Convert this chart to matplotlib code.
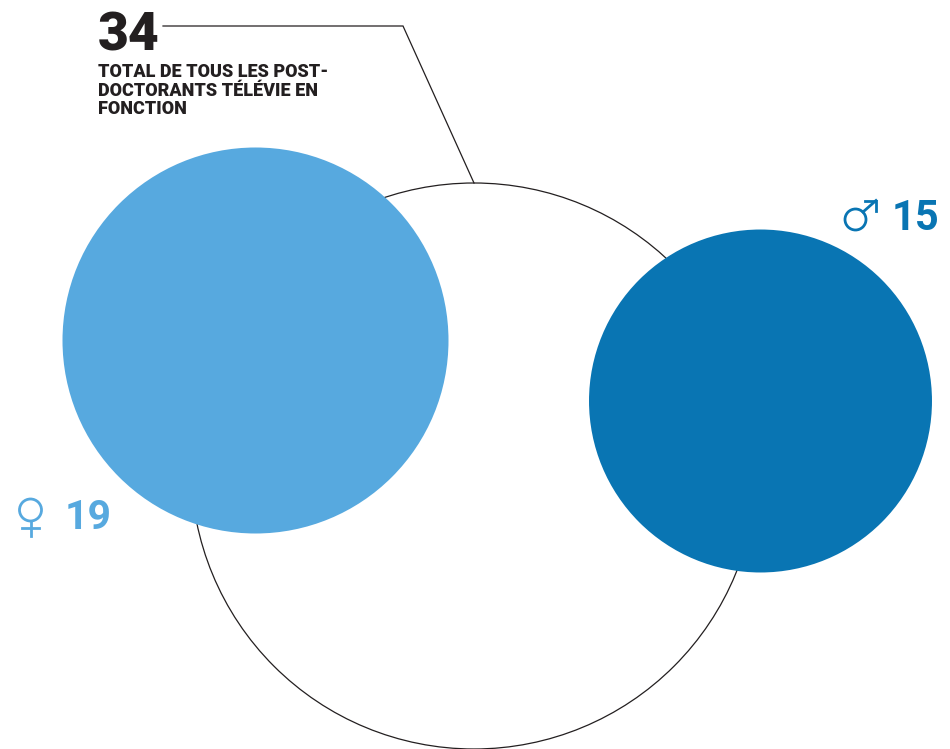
import math
import matplotlib
matplotlib.use("Agg")
import matplotlib.pyplot as plt
from matplotlib.patches import Circle

# Data
total_value = 34
female_value = 19
male_value = 15
total_lines = ["TOTAL DE TOUS LES POST-", "DOCTORANTS TÉLÉVIE EN", "FONCTION"]

LIGHT = "#57A9DF"
DARK = "#0975B3"
INK = "#231F20"

fig = plt.figure(figsize=(9.5, 7.49), dpi=100)
ax = fig.add_axes([0, 0, 1, 1])
ax.set_xlim(0, 950)
ax.set_ylim(749, 0)
ax.set_aspect("equal")
ax.axis("off")

k = 193 / math.sqrt(female_value)  # area-proportional scale for the two groups
k_total = 283 / math.sqrt(total_value)

ax.add_patch(Circle((474, 466), k_total * math.sqrt(total_value), fc="white", ec=INK, lw=0.9, zorder=1))
ax.add_patch(Circle((255.5, 340.5), k * math.sqrt(female_value), fc=LIGHT, ec="none", zorder=2))
ax.add_patch(Circle((760.5, 401), k * math.sqrt(male_value), fc=DARK, ec="none", zorder=2))

ax.plot([163, 403, 474], [26, 26, 183], color=INK, lw=0.9, zorder=3, solid_joinstyle="miter")

ax.text(97.5, 50.5, str(total_value), family="Roboto", weight="black", fontsize=38.4, color=INK, va="baseline", ha="left")
for line, base in zip(total_lines, [77, 95.5, 114]):
    ax.text(98, base, line, family="Roboto", weight="black", fontsize=12.95, color=INK, va="baseline")

ax.text(892, 230, str(male_value), family="Roboto", weight="bold", fontsize=30, color=DARK, va="baseline", ha="left")
ax.text(65, 529, str(female_value), family="Roboto", weight="bold", fontsize=29.5, color=LIGHT, va="baseline", ha="left")

# Gender icons
sym_lw = 2.0
ax.add_patch(Circle((855.5, 219.5), 10.5, fc="none", ec=DARK, lw=sym_lw, zorder=4))
ax.plot([863, 876], [212, 200.5], color=DARK, lw=sym_lw, zorder=4)
ax.plot([865, 876, 876], [200.5, 200.5, 211], color=DARK, lw=sym_lw, zorder=4, solid_joinstyle="miter")
ax.add_patch(Circle((30.5, 510), 11, fc="none", ec=LIGHT, lw=sym_lw, zorder=4))
ax.plot([30.5, 30.5], [521, 535.5], color=LIGHT, lw=sym_lw, zorder=4)
ax.plot([22, 38.5], [527.5, 527.5], color=LIGHT, lw=sym_lw, zorder=4)

fig.savefig("out.png", dpi=100, facecolor="white")
